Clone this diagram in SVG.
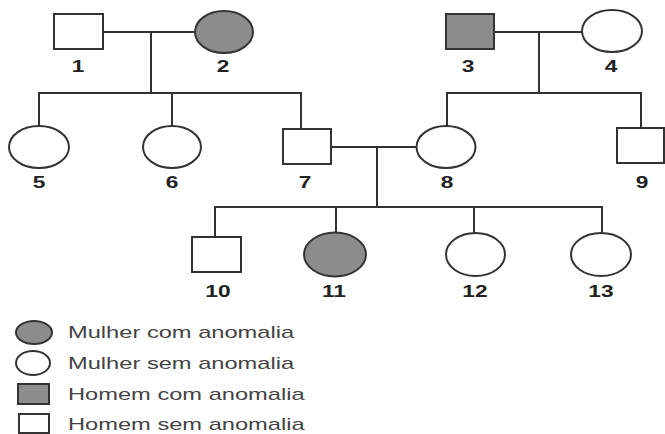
<svg xmlns="http://www.w3.org/2000/svg" width="665" height="434" viewBox="0 0 665 434">
  <style>
    .sym { stroke: #333; stroke-width: 2; fill: #fff; }
    .aff { fill: #8c8c8c; }
    .wire { stroke: #333; stroke-width: 2; fill: none; stroke-linecap: square; }
    .num { font-family: "Liberation Sans", Arial, sans-serif; font-weight: bold; font-size: 16px; fill: #222; text-anchor: middle; }
    .key { font-family: "Liberation Sans", Arial, sans-serif; font-size: 16px; fill: #444; }
  </style>
  <rect width="665" height="434" fill="#fff"/>

  <!-- connectors: couple lines, descent lines and sibship lines -->
  <g id="connectors" class="wire">
    <path d="M103 32 H195 M151 32 V93 M39 93 H301 M39 93 V126 M172 93 V126 M301 93 V129"/>
    <path d="M494 32 H582 M539 32 V93 M447 93 H641 M447 93 V126 M641 93 V128"/>
    <path d="M331 147 H417 M377 147 V207 M215 207 H602 M215 207 V237 M336 207 V232 M474 207 V233 M602 207 V233"/>
  </g>

  <!-- generation I -->
  <g id="n1"><rect class="sym" x="54" y="14" width="49" height="35"/><text class="num" transform="translate(78,72) scale(1.42,1)">1</text></g>
  <g id="n2"><ellipse class="sym aff" cx="224" cy="32" rx="29" ry="21"/><text class="num" transform="translate(223,72) scale(1.42,1)">2</text></g>
  <g id="n3"><rect class="sym aff" x="446" y="14" width="48" height="35"/><text class="num" transform="translate(468,72) scale(1.42,1)">3</text></g>
  <g id="n4"><ellipse class="sym" cx="612" cy="31" rx="30" ry="21"/><text class="num" transform="translate(611,72) scale(1.42,1)">4</text></g>

  <!-- generation II -->
  <g id="n5"><ellipse class="sym" cx="39" cy="147" rx="30" ry="21"/><text class="num" transform="translate(39,188) scale(1.42,1)">5</text></g>
  <g id="n6"><ellipse class="sym" cx="172" cy="147" rx="29" ry="21"/><text class="num" transform="translate(172,188) scale(1.42,1)">6</text></g>
  <g id="n7"><rect class="sym" x="283" y="129" width="48" height="35"/><text class="num" transform="translate(305,188) scale(1.42,1)">7</text></g>
  <g id="n8"><ellipse class="sym" cx="446" cy="147" rx="29.5" ry="21"/><text class="num" transform="translate(447,188) scale(1.42,1)">8</text></g>
  <g id="n9"><rect class="sym" x="617" y="128" width="47" height="35"/><text class="num" transform="translate(642,188) scale(1.42,1)">9</text></g>

  <!-- generation III -->
  <g id="n10"><rect class="sym" x="192" y="237" width="49" height="35"/><text class="num" transform="translate(218,297) scale(1.42,1)">10</text></g>
  <g id="n11"><ellipse class="sym aff" cx="335" cy="254.5" rx="31" ry="22"/><text class="num" transform="translate(334,297) scale(1.42,1)">11</text></g>
  <g id="n12"><ellipse class="sym" cx="475.5" cy="254.5" rx="29.5" ry="21.5"/><text class="num" transform="translate(475,297) scale(1.42,1)">12</text></g>
  <g id="n13"><ellipse class="sym" cx="601" cy="254.5" rx="30" ry="21.5"/><text class="num" transform="translate(601,297) scale(1.42,1)">13</text></g>

  <!-- key -->
  <g id="legend">
    <ellipse class="sym aff" cx="34" cy="332.5" rx="18" ry="11.5"/>
    <text class="key" transform="translate(68,338) scale(1.48,1)">Mulher com anomalia</text>
    <ellipse class="sym" cx="33" cy="363" rx="17" ry="12"/>
    <text class="key" transform="translate(68,369) scale(1.48,1)">Mulher sem anomalia</text>
    <rect class="sym aff" x="18" y="384" width="31" height="20"/>
    <text class="key" transform="translate(68,400) scale(1.48,1)">Homem com anomalia</text>
    <rect class="sym" x="19" y="414" width="30" height="19"/>
    <text class="key" transform="translate(68,430) scale(1.48,1)">Homem sem anomalia</text>
  </g>
</svg>
